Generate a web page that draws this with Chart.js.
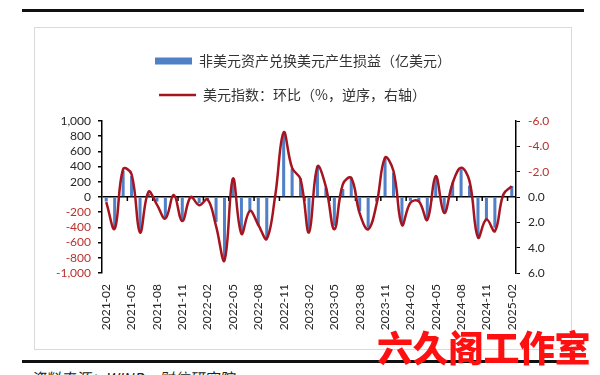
<!DOCTYPE html>
<html>
<head>
<meta charset="utf-8">
<script src="https://cdn.jsdelivr.net/npm/chart.js@4.4.1/dist/chart.umd.min.js"></script>
<style>
  body { margin: 0; width: 600px; height: 375px; background: #fff; position: relative; overflow: hidden; font-family: "Noto Sans CJK SC", sans-serif; }
  .rule { position: absolute; left: 22px; width: 562px; height: 3px; background: #111; }
  #box { position: absolute; left: 34px; top: 27px; width: 536px; height: 321px; border: 1px solid #d9d9d9; }
  #chart-canvas { position: absolute; left: 0; top: 1px; }
  #source { position: absolute; left: 30px; top: 367px; font-size: 15px; color: #222; font-family: "Noto Sans CJK SC", serif; font-style: italic; }
  #mark { position: absolute; left: 377px; top: 326px; font-size: 36px; line-height: 40px; font-weight: 900; color: #ff1010; letter-spacing: -0.5px; }
</style>
</head>
<body>
<div class="rule" style="top:9px"></div>
<div id="box"><canvas id="chart-canvas" width="536" height="316"></canvas></div>
<div class="rule" style="top:360px"></div>
<div id="source">资料来源：WIND，财信研究院</div>
<div id="mark">六久阁工作室</div>
<script>
// Månader (kategorier)
const months = [
  "2021-02", "2021-03", "2021-04", "2021-05", "2021-06", "2021-07", "2021-08", "2021-09", "2021-10", "2021-11", "2021-12",
  "2022-01", "2022-02", "2022-03", "2022-04", "2022-05", "2022-06", "2022-07", "2022-08", "2022-09", "2022-10", "2022-11", "2022-12",
  "2023-01", "2023-02", "2023-03", "2023-04", "2023-05", "2023-06", "2023-07", "2023-08", "2023-09", "2023-10", "2023-11", "2023-12",
  "2024-01", "2024-02", "2024-03", "2024-04", "2024-05", "2024-06", "2024-07", "2024-08", "2024-09", "2024-10", "2024-11", "2024-12",
  "2025-01", "2025-02",
];

// 非美元资产兑换美元产生损益（亿美元）
const fxGains = [
  -60, -400, 345, 275, -450, 40, -60, -280, 10, -305, -20,
  -80, -40, -330, -800, 240, -450, -180, -380, -540, 20, 830, 370,
  245, -425, 410, 120, -380, 105, 255, -185, -405, -60, 520, 320,
  -340, -50, -55, -275, 255, -185, 190, 365, 150, -515, -320, -405,
  20, 145,
];

// 美元指数：环比（%），右轴逆序
const usdIndexMoM = [
  0.4, 2.5, -2.2, -1.8, 2.8, -0.4, 0.6, 1.7, -0.15, 1.9, 0.0,
  0.65, 0.2, 2.3, 5.0, -1.45, 2.9, 1.1, 2.2, 3.3, -0.1, -5.1, -2.3,
  -1.4, 2.8, -2.4, -0.8, 2.55, -1.0, -1.5, 1.3, 2.55, 0.55, -3.1, -2.05,
  2.2, 0.45, 0.35, 1.8, -1.65, 1.25, -1.1, -2.3, -1.25, 3.2, 1.75, 2.7,
  -0.2, -0.85,
];

// Axelgränser
const leftTicks = { min: -1000, max: 1000, step: 200 };
const rightTicks = { min: -6, max: 6, step: 2 };

const darkText = "#262626";
const redText = "#b8322f";
const axisFont = { family: "Lato, 'Liberation Sans', sans-serif", size: 12 };

// Små streck på nollaxeln var tredje månad
const zeroAxisTicks = {
  id: "zeroAxisTicks",
  beforeDatasetsDraw(chart) {
    const xs = chart.scales.x;
    const y0 = chart.scales.y.getPixelForValue(0);
    const ctx = chart.ctx;
    ctx.save();
    ctx.strokeStyle = "#000";
    ctx.lineWidth = 1.5;
    for (let i = 2; i < months.length - 1; i += 3) {
      const px = (xs.getPixelForValue(i) + xs.getPixelForValue(i + 1)) / 2;
      ctx.beginPath();
      ctx.moveTo(px, y0);
      ctx.lineTo(px, y0 + 4);
      ctx.stroke();
    }
    ctx.restore();
  },
};

// Lite extra luft under legenden
const legendGap = {
  id: "legendGap",
  afterInit(chart) {
    const lg = chart.legend;
    const fit = lg.fit;
    lg.fit = function () {
      fit.call(this);
      this.height += 9;
    };
  },
};

new Chart(document.getElementById("chart-canvas"), {
  type: "bar",
  data: {
    labels: months,
    datasets: [
      {
        type: "bar",
        label: "非美元资产兑换美元产生损益（亿美元）",
        data: fxGains,
        backgroundColor: "#4f80c8",
        borderWidth: 0,
        barPercentage: 0.36,
        categoryPercentage: 1,
        pointStyle: "rect",
        yAxisID: "y",
        order: 1,
      },
      {
        type: "line",
        label: "美元指数：环比（%，逆序，右轴）\u3000\u3000",
        data: usdIndexMoM,
        borderColor: "#a5141f",
        backgroundColor: "#a5141f",
        borderWidth: 2.5,
        tension: 0.4,
        pointRadius: 0,
        pointStyle: "line",
        yAxisID: "y1",
        order: 0,
      },
    ],
  },
  plugins: [zeroAxisTicks, legendGap],
  options: {
    responsive: false,
    animation: false,
    layout: { padding: { top: 5, left: 0, right: 0, bottom: 0 } },
    plugins: {
      tooltip: { enabled: false },
      legend: {
        position: "top",
        labels: {
          usePointStyle: true,
          pointStyleWidth: 37,
          boxHeight: 7,
          padding: 20,
          color: "#333",
          font: { family: "'Noto Sans CJK SC', sans-serif", size: 14 },
          sort: (a, b) => a.datasetIndex - b.datasetIndex,
        },
      },
    },
    scales: {
      x: {
        grid: { display: false, drawTicks: false },
        border: { display: false },
        ticks: {
          autoSkip: false,
          maxRotation: 90,
          minRotation: 90,
          padding: 11,
          color: darkText,
          font: axisFont,
          callback: (value, index) => (index % 3 === 0 ? months[index] : ""),
        },
        afterFit: (scale) => { scale.height = 72; },
      },
      y: {
        position: "left",
        min: leftTicks.min,
        max: leftTicks.max,
        border: { display: true, color: "#000", width: 1.5 },
        grid: {
          color: (ctx) => (ctx.tick.value === 0 ? "#000" : "rgba(0,0,0,0)"),
          lineWidth: 1.5,
          tickColor: "#000",
          tickLength: 4,
        },
        ticks: {
          stepSize: leftTicks.step,
          autoSkip: false,
          padding: 7,
          font: axisFont,
          color: (ctx) => (ctx.tick.value < 0 ? redText : darkText),
          callback: (v) => v.toLocaleString("en-US"),
        },
        afterFit: (scale) => { scale.width = 67; },
      },
      y1: {
        position: "right",
        reverse: true,
        min: rightTicks.min,
        max: rightTicks.max,
        border: { display: true, color: "#000", width: 1.5 },
        grid: { drawOnChartArea: false, tickColor: "#000", tickLength: 4 },
        ticks: {
          stepSize: rightTicks.step,
          autoSkip: false,
          padding: 8,
          font: axisFont,
          color: (ctx) => (ctx.tick.value < 0 ? redText : darkText),
          callback: (v) => v.toFixed(1),
        },
        afterFit: (scale) => { scale.width = 55; },
      },
    },
  },
});
</script>
</body>
</html>
